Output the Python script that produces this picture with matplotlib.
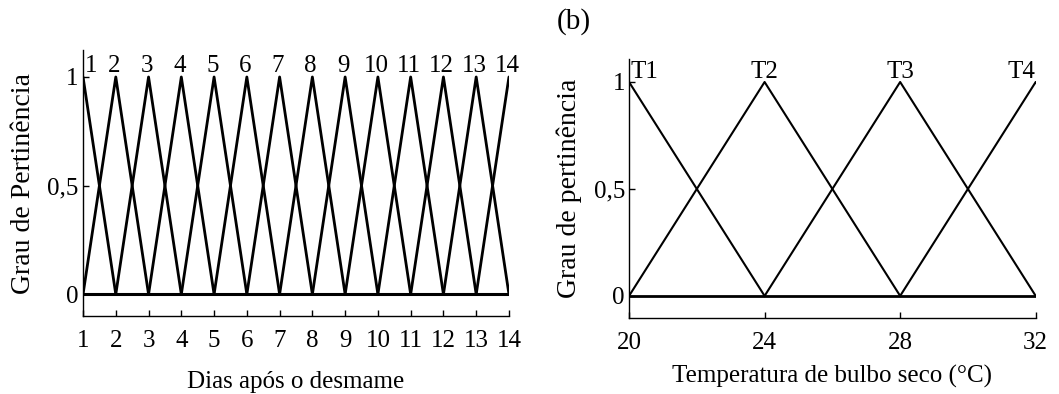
import matplotlib
matplotlib.use("Agg")
from matplotlib import pyplot as plt

plt.rcParams['font.family'] = ['Liberation Serif', 'DejaVu Serif']

# data: triangular membership functions
dias = list(range(1, 15))
dias_labels = [str(d) for d in dias]
dias_halfwidth = 1

temps = [20, 24, 28, 32]
temp_labels = ['T1', 'T2', 'T3', 'T4']
temp_halfwidth = 4

yticks = [0, 0.5, 1]
yticklabels = ['0', '0,5', '1']

fig = plt.figure(figsize=(10.59, 3.94), dpi=100)
ax1 = fig.add_axes([0.0784, 0.198, 0.4022, 0.675])
ax2 = fig.add_axes([0.594, 0.193, 0.384, 0.657])

def style(ax):
    for s in ['top', 'right']:
        ax.spines[s].set_visible(False)
    for s in ['left', 'bottom']:
        ax.spines[s].set_linewidth(1.0)
    ax.tick_params(direction='in', length=4, width=1, labelsize=18)
    ax.tick_params(axis='x', pad=10)
    ax.tick_params(axis='y', pad=3)
    ax.set_yticks(yticks)
    ax.set_yticklabels(yticklabels)

# left panel
for c in dias:
    ax1.plot([c - dias_halfwidth, c, c + dias_halfwidth], [0, 1, 0], color='black', lw=2.0)
ax1.plot([dias[0], dias[-1]], [0, 0], color='black', lw=2.2)
ax1.set_xlim(dias[0], dias[-1])
ax1.set_ylim(-0.1, 1.124)
ax1.set_xticks(dias)
style(ax1)
for c, lab in zip(dias, dias_labels):
    if c == dias[0]:
        ax1.text(c + 0.06, 1.05, lab, ha='left', va='center', fontsize=18)
    else:
        ax1.text(c - 0.05, 1.05, lab, ha='center', va='center', fontsize=18)
ax1.set_xlabel('Dias após o desmame', fontsize=18, labelpad=14)
ax1.set_ylabel('Grau de Pertinência', fontsize=20, labelpad=8)

# right panel
for t in temps:
    ax2.plot([t - temp_halfwidth, t, t + temp_halfwidth], [0, 1, 0], color='black', lw=1.5)
ax2.plot([temps[0], temps[-1]], [0, 0], color='black', lw=2.0)
ax2.set_xlim(temps[0], temps[-1])
ax2.set_ylim(-0.103, 1.107)
ax2.set_xticks(temps)
style(ax2)
for t, lab in zip(temps, temp_labels):
    if t == temps[0]:
        ax2.text(t + 0.05, 1.045, lab, ha='left', va='center', fontsize=18)
    elif t == temps[-1]:
        ax2.text(t, 1.045, lab, ha='right', va='center', fontsize=18)
    else:
        ax2.text(t, 1.045, lab, ha='center', va='center', fontsize=18)
ax2.set_xlabel('Temperatura de bulbo seco (°C)', fontsize=18, labelpad=8)
ax2.set_ylabel('Grau de pertinência', fontsize=20, labelpad=8)

fig.text(0.542, 0.946, '(b)', ha='center', va='center', fontsize=21)

fig.savefig('out.png', dpi=100)
